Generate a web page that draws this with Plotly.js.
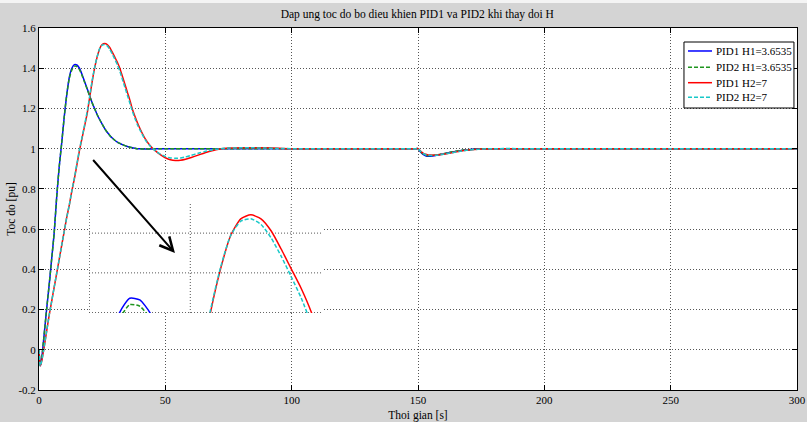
<!DOCTYPE html>
<html>
<head>
<meta charset="utf-8">
<script src="https://cdn.plot.ly/plotly-3.0.1.min.js"></script>
<style>
  html, body { margin: 0; padding: 0; background: #d4d4d4; }
  #chart { width: 807px; height: 422px; }
</style>
</head>
<body>
<div id="chart"></div>
<script>
// ---- data ----
var time = [0,0.5,1,2,3,4,5,6,7,8,9,10,11,12,13,14,15,16,17,18,19,20,21,22,23,24,25,26,27,28,29,30,31,32,33,34,35,36,37,38,39,40,42,44,46,48,50,52,54,56,58,60,63,66,70,75,80,85,90,95,100,110,120,130,140,145,148,149,150,151,152,153,154,155,157,160,163,166,170,175,180,200,250,300];

var pid1H1 = [0,-0.08,-0.05,0.07,0.2,0.32,0.45,0.58,0.76,0.91,1.03,1.16,1.27,1.355,1.40,1.418,1.416,1.40,1.37,1.335,1.30,1.265,1.23,1.2,1.17,1.145,1.122,1.10,1.082,1.066,1.053,1.042,1.033,1.026,1.02,1.015,1.011,1.007,1.004,1.002,1.0,0.999,0.998,0.998,0.999,1.0,1.0,1.0,1.0,1.0,1.0,1.0,1.0,1.0,1.0,1.0,1.0,1.0,1.0,1.0,1.0,1.0,1.0,1.0,1.0,1.0,1.0,1.0,1.0,0.984,0.972,0.965,0.962,0.962,0.966,0.974,0.982,0.989,0.995,0.999,1.0,1.0,1.0,1.0];

var pid2H1 = [0,-0.08,-0.05,0.07,0.2,0.32,0.45,0.58,0.76,0.91,1.03,1.16,1.27,1.35,1.392,1.41,1.408,1.393,1.365,1.332,1.298,1.263,1.229,1.199,1.17,1.145,1.122,1.10,1.082,1.066,1.053,1.042,1.033,1.026,1.02,1.015,1.011,1.007,1.004,1.002,1.0,0.999,0.999,0.999,1.0,1.0,1.0,1.0,1.0,1.0,1.0,1.0,1.0,1.0,1.0,1.0,1.0,1.0,1.0,1.0,1.0,1.0,1.0,1.0,1.0,1.0,1.0,1.0,1.0,0.985,0.974,0.967,0.965,0.965,0.968,0.975,0.983,0.99,0.995,0.999,1.0,1.0,1.0,1.0];

var pid1H2 = [0,-0.08,-0.06,0.01,0.09,0.17,0.24,0.31,0.38,0.45,0.52,0.59,0.66,0.72,0.79,0.85,0.92,0.99,1.05,1.11,1.17,1.25,1.33,1.40,1.455,1.497,1.518,1.523,1.518,1.503,1.48,1.455,1.43,1.40,1.36,1.32,1.28,1.24,1.195,1.16,1.128,1.099,1.05,1.015,0.99,0.97,0.955,0.945,0.941,0.942,0.947,0.955,0.968,0.981,0.995,1.003,1.005,1.005,1.004,1.002,1.0,1.0,1.0,1.0,1.0,1.0,1.0,1.0,1.0,0.988,0.978,0.972,0.969,0.968,0.968,0.972,0.979,0.986,0.993,0.998,1.0,1.0,1.0,1.0];

var pid2H2 = [0,-0.08,-0.06,0.01,0.09,0.17,0.24,0.31,0.38,0.45,0.52,0.59,0.66,0.72,0.79,0.855,0.925,0.995,1.055,1.115,1.18,1.255,1.335,1.403,1.457,1.497,1.515,1.518,1.511,1.494,1.471,1.445,1.418,1.385,1.345,1.305,1.265,1.225,1.185,1.15,1.118,1.092,1.045,1.013,0.99,0.973,0.961,0.954,0.952,0.954,0.959,0.966,0.977,0.987,0.997,1.003,1.004,1.004,1.003,1.001,1.0,1.0,1.0,1.0,1.0,1.0,1.0,1.0,1.0,0.987,0.976,0.970,0.967,0.966,0.967,0.972,0.979,0.986,0.993,0.998,1.0,1.0,1.0,1.0];

var seriesNames = ['PID1 H1=3.6535','PID2 H1=3.6535','PID1 H2=7','PID2 H2=7'];
var xTickVals = [0,50,100,150,200,250,300];
var xTickText = ['0','50','100','150','200','250','300'];
var yTickVals = [-0.2,0,0.2,0.4,0.6,0.8,1,1.2,1.4,1.6];
var yTickText = ['-0.2','0','0.2','0.4','0.6','0.8','1','1.2','1.4','1.6'];
var titleText = 'Dap ung toc do bo dieu khien PID1 va PID2 khi thay doi H';
var xTitle = 'Thoi gian [s]';
var yTitle = 'Toc do [pu]';

// ---- styles ----
var serif = 'Liberation Serif, Times New Roman, serif';
var styles = [
  {color:'#0000ff', dash:'solid', width:1.5},
  {color:'#1f951f', dash:'4px,2px', width:1.5},
  {color:'#ff0000', dash:'solid', width:1.5},
  {color:'#18c8c8', dash:'4px,2px', width:1.5}
];
var allY = [pid1H1, pid2H1, pid1H2, pid2H2];

var traces = [];
allY.forEach(function(y, i){
  traces.push({
    x: time, y: y, type:'scatter', mode:'lines', name: seriesNames[i], showlegend:false,
    line: {color: styles[i].color, dash: styles[i].dash, width: styles[i].width, shape:'spline', smoothing:0.6},
    xaxis:'x', yaxis:'y', hoverinfo:'skip'
  });
});
// zoomed inset of the peaks (same data, inset axes)
allY.forEach(function(y, i){
  traces.push({
    x: time, y: y, type:'scatter', mode:'lines', name: seriesNames[i], showlegend:false,
    line: {color: styles[i].color, dash: styles[i].dash, width: styles[i].width, shape:'spline', smoothing:0.6},
    xaxis:'x2', yaxis:'y2', hoverinfo:'skip'
  });
});

var gridDash = '1px,2px';
var gridColor = '#555555';
var insetX = [9.97, 33.05];
var insetY = [1.3995, 1.539];
var insetGridX = [10, 20, 30];
var insetGridY = [1.40, 1.45, 1.50];

var shapes = [
  {type:'rect', xref:'x2', yref:'y2', x0:insetX[0], x1:insetX[1], y0:insetY[0], y1:insetY[1],
   fillcolor:'#ffffff', line:{width:0}, layer:'below'},
  {type:'rect', xref:'paper', yref:'paper', x0:-0.06, x1:1.02, y0:1.069, y1:1.08,
   fillcolor:'#f4f4f4', line:{width:0}, layer:'below'}
];
insetGridX.forEach(function(g){
  shapes.push({type:'line', xref:'x2', yref:'y2', x0:g, x1:g, y0:insetY[0], y1:insetY[1],
    line:{color:gridColor, width:1, dash:gridDash}, layer:'between'});
});
insetGridY.forEach(function(g){
  shapes.push({type:'line', xref:'x2', yref:'y2', x0:insetX[0], x1:insetX[1], y0:g, y1:g,
    line:{color:gridColor, width:1, dash:gridDash}, layer:'between'});
});

// ---- hand-built legend box (paper coordinates) ----
var legBox = {x0:0.8509, x1:0.9960, y0:0.779, y1:0.9613};
var legRows = [0.9365, 0.8914, 0.8489, 0.8086];
var legLineX = [0.8562, 0.8879];
var legTextX = 0.8918;
shapes.push({type:'rect', xref:'paper', yref:'paper', x0:legBox.x0, x1:legBox.x1, y0:legBox.y0, y1:legBox.y1,
  fillcolor:'#ffffff', line:{color:'#000', width:1}, layer:'above'});
var annotations = [
  {xref:'x', yref:'y', axref:'x', ayref:'y', x:53.8, y:0.4815, ax:20.9, ay:0.951,
   text:'', showarrow:true, arrowhead:5, arrowsize:1.3, arrowwidth:2, arrowcolor:'#000', standoff:0}
];
seriesNames.forEach(function(n, i){
  shapes.push({type:'line', xref:'paper', yref:'paper', x0:legLineX[0], x1:legLineX[1], y0:legRows[i], y1:legRows[i],
    line:{color:styles[i].color, width:styles[i].width, dash:styles[i].dash}, layer:'above'});
  annotations.push({xref:'paper', yref:'paper', x:legTextX, y:legRows[i], xanchor:'left', yanchor:'middle',
    text:n, showarrow:false, borderpad:0, font:{family:serif, size:11, color:'#000'}});
});

var layout = {
  width: 807, height: 422,
  margin: {l:39, r:10, t:28, b:32, pad:0},
  paper_bgcolor: '#d4d4d4',
  plot_bgcolor: '#ffffff',
  showlegend: false,
  font: {family: serif, size: 11, color:'#000'},
  title: {text: titleText, font:{family: serif, size:11.5, color:'#000'}, x:0.517, xanchor:'center', y:0.967, yanchor:'middle'},
  xaxis: {
    domain:[0,1], range:[0,300], tickmode:'array', tickvals:xTickVals, ticktext:xTickText,
    showline:true, linecolor:'#000', linewidth:1, mirror:'ticks',
    ticks:'inside', ticklen:5, tickcolor:'#000',
    showgrid:true, gridcolor:gridColor, griddash:gridDash, gridwidth:1, zeroline:false,
    tickfont:{family:serif, size:11, color:'#000'},
    title:{text:xTitle, font:{family:serif, size:11.5, color:'#000'}, standoff:5}
  },
  yaxis: {
    domain:[0,1], range:[-0.2,1.6], tickmode:'array', tickvals:yTickVals, ticktext:yTickText,
    showline:true, linecolor:'#000', linewidth:1, mirror:'ticks',
    ticks:'inside', ticklen:5, tickcolor:'#000',
    showgrid:true, gridcolor:gridColor, griddash:gridDash, gridwidth:1, zeroline:false,
    tickfont:{family:serif, size:11, color:'#000'},
    title:{text:yTitle, font:{family:serif, size:11.5, color:'#000'}, standoff:0}
  },
  xaxis2: {
    domain:[0.066, 0.3734], anchor:'y2', range:insetX,
    showticklabels:false, ticks:'', showline:false, zeroline:false, showgrid:false
  },
  yaxis2: {
    domain:[0.2127, 0.519], anchor:'x2', range:insetY,
    showticklabels:false, ticks:'', showline:false, zeroline:false, showgrid:false
  },
  shapes: shapes,
  annotations: annotations
};

Plotly.newPlot('chart', traces, layout, {staticPlot:true, displayModeBar:false});
</script>
</body>
</html>
